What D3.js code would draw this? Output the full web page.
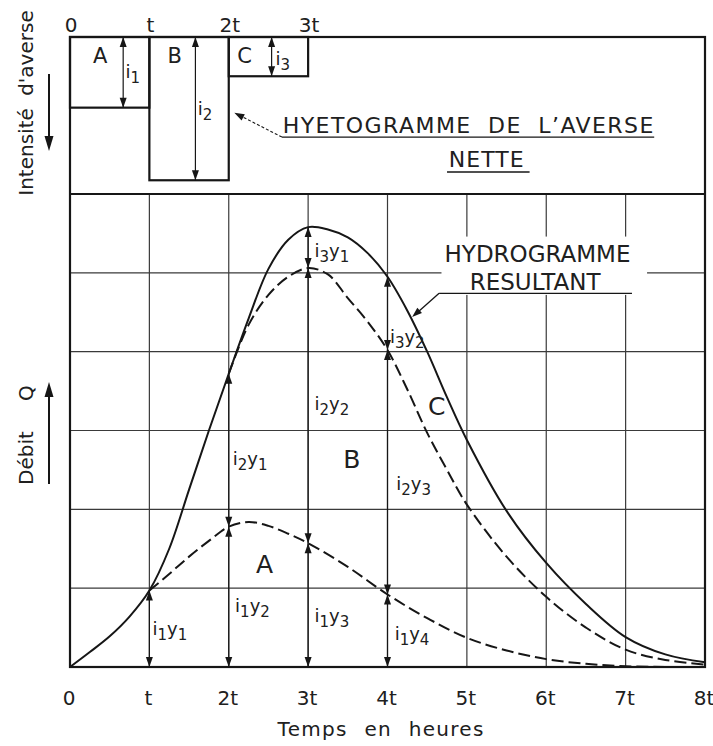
<!DOCTYPE html>
<html>
<head>
<meta charset="utf-8">
<script src="https://cdn.jsdelivr.net/npm/d3@7"></script>
<style>
  html, body { margin: 0; padding: 0; background: #fff; }
  svg { display: block; font-family: "DejaVu Sans", sans-serif; }
</style>
</head>
<body>
<svg id="chart" width="713" height="746"></svg>
<script>
// ---- data -------------------------------------------------------------
// time in multiples of the unit duration t
const timeTicks = [0, 1, 2, 3, 4, 5, 6, 7, 8];
const timeLabels = ["0", "t", "2t", "3t", "4t", "5t", "6t", "7t", "8t"];
const hyetoTicks = [0, 1, 2, 3];
const hyetoLabels = ["0", "t", "2t", "3t"];
const flowGrid = [1, 2, 3, 4, 5];

// net rainfall blocks
const blockNames = ["A", "B", "C"];
const blockStart = [0, 1, 2];
const blockIntensity = [1.8, 3.65, 1.0];
const blockSub = ["1", "2", "3"];

// runoff of block A alone (time, discharge)
const hydroA = [
  [1, 0.97], [1.25, 1.18], [1.5, 1.40], [1.75, 1.60], [2, 1.78], [2.25, 1.84],
  [2.5, 1.79], [2.75, 1.69], [3, 1.57], [3.5, 1.27], [4, 0.92], [4.5, 0.62],
  [5, 0.37], [5.5, 0.21], [6, 0.10], [6.5, 0.04], [7, 0.01], [7.5, 0], [8, 0]
];
// runoff of blocks A + B
const hydroAB = [
  [2, 3.72], [2.25, 4.34], [2.5, 4.72], [2.75, 4.95], [3, 5.06], [3.25, 4.98],
  [3.5, 4.68], [3.75, 4.38], [4, 4.02], [4.25, 3.52], [4.5, 2.97], [4.75, 2.50],
  [5, 2.06], [5.5, 1.40], [6, 0.89], [6.5, 0.50], [7, 0.22], [7.5, 0.09], [8, 0.03]
];
// resulting hydrograph A + B + C
const hydroTotal = [
  [0, 0], [0.25, 0.19], [0.5, 0.39], [0.75, 0.64], [1, 0.97], [1.25, 1.50],
  [1.5, 2.25], [1.75, 3.00], [2, 3.72], [2.25, 4.42], [2.5, 5.05], [2.75, 5.42],
  [3, 5.58], [3.25, 5.55], [3.5, 5.45], [3.75, 5.25], [4, 4.95], [4.25, 4.52],
  [4.5, 4.00], [4.75, 3.42], [5, 2.88], [5.5, 1.98], [6, 1.32], [6.5, 0.80],
  [7, 0.38], [7.5, 0.16], [8, 0.06]
];

// ordinate labels i_k y_j
const ordinateLabels = [
  ["1", "1"], ["1", "2"], ["1", "3"], ["1", "4"],
  ["2", "1"], ["2", "2"], ["2", "3"],
  ["3", "1"], ["3", "2"]
];

// ---- layout -------------------------------------------------------------
const frame = { left: 70, right: 705, top: 37, split: 194, bottom: 667 };
const x = d3.scaleLinear().domain([0, 8]).range([frame.left, frame.right]);
const yQ = d3.scaleLinear().domain([0, 6]).range([frame.bottom, frame.split]);
const yI = d3.scaleLinear().domain([0, 4]).range([frame.top, frame.split]);

const ink = "#161616";
const svg = d3.select("#chart");
svg.append("rect").attr("width", 713).attr("height", 746).attr("fill", "#fff");

// grid of the hydrograph panel
const grid = svg.append("g").attr("stroke", "#3a3a3a").attr("stroke-width", 1.2);
grid.selectAll("line.v").data(timeTicks.slice(1, -1)).join("line")
  .attr("x1", d => x(d)).attr("x2", d => x(d))
  .attr("y1", frame.split).attr("y2", frame.bottom);
grid.selectAll("line.h").data(flowGrid).join("line")
  .attr("x1", frame.left).attr("x2", frame.right)
  .attr("y1", d => yQ(d)).attr("y2", d => yQ(d));

// blank area behind the "HYDROGRAMME RESULTANT" note
svg.append("rect")
  .attr("x", x(4.68)).attr("y", yQ(5.46))
  .attr("width", x(7.27) - x(4.68)).attr("height", yQ(4.72) - yQ(5.46))
  .attr("fill", "#fff");

// hydrograph curves
const line = d3.line().x(d => x(d[0])).y(d => yQ(d[1])).curve(d3.curveCatmullRom.alpha(0.5));
const curves = svg.append("g").attr("fill", "none").attr("stroke", ink).attr("stroke-width", 2);
curves.append("path").attr("d", line(hydroA)).attr("stroke-dasharray", "12,5");
curves.append("path").attr("d", line(hydroAB)).attr("stroke-dasharray", "12,5");
curves.append("path").attr("d", line(hydroTotal));

// arrow helpers
function head(g, tipX, tipY, dx, dy, len = 10, half = 3.5) {
  const n = Math.hypot(dx, dy); const ux = dx / n, uy = dy / n;
  const bx = tipX - ux * len, by = tipY - uy * len;
  g.append("path")
    .attr("d", `M${tipX},${tipY}L${bx - uy * half},${by + ux * half}L${bx + uy * half},${by - ux * half}Z`)
    .attr("fill", ink).attr("stroke", "none");
}
function dimArrow(g, xp, yLow, yHigh) {
  g.append("line").attr("x1", xp).attr("x2", xp).attr("y1", yLow).attr("y2", yHigh)
    .attr("stroke", ink).attr("stroke-width", 1.2);
  head(g, xp, yLow, 0, 1);
  head(g, xp, yHigh, 0, -1);
}
const valueAt = (series, t) => series.find(d => d[0] === t)[1];

// ordinate arrows on t, 2t, 3t, 4t
const arrows = svg.append("g");
const stacks = [
  [1, [0, valueAt(hydroA, 1)]],
  [2, [0, valueAt(hydroA, 2), valueAt(hydroTotal, 2)]],
  [3, [0, valueAt(hydroA, 3), valueAt(hydroAB, 3), valueAt(hydroTotal, 3)]],
  [4, [0, valueAt(hydroA, 4), valueAt(hydroAB, 4), valueAt(hydroTotal, 4)]]
];
stacks.forEach(([t, levels]) => {
  for (let k = 0; k < levels.length - 1; k++) {
    dimArrow(arrows, x(t), yQ(levels[k]), yQ(levels[k + 1]));
  }
});

// hyetograph blocks
const hyeto = svg.append("g");
blockNames.forEach((name, k) => {
  hyeto.append("rect")
    .attr("x", x(blockStart[k])).attr("y", yI(0))
    .attr("width", x(blockStart[k] + 1) - x(blockStart[k]))
    .attr("height", yI(blockIntensity[k]) - yI(0))
    .attr("fill", "none").attr("stroke", ink).attr("stroke-width", 2.2);
});
const hyetoArrowT = [0.67, 1.58, 2.54];
blockNames.forEach((name, k) => {
  dimArrow(hyeto, x(hyetoArrowT[k]), yI(blockIntensity[k]), yI(0));
});

// frame
const fr = svg.append("g").attr("stroke", ink).attr("stroke-width", 2.2).attr("fill", "none");
fr.append("rect").attr("x", frame.left).attr("y", frame.top)
  .attr("width", frame.right - frame.left).attr("height", frame.bottom - frame.top);
fr.append("line").attr("x1", frame.left).attr("x2", frame.right)
  .attr("y1", frame.split).attr("y2", frame.split);

// text
const txt = svg.append("g").attr("fill", "#202020");

txt.selectAll("text.bt").data(timeTicks).join("text")
  .attr("x", d => x(d) - 1).attr("y", 705)
  .attr("text-anchor", "middle").attr("font-size", 20)
  .text((d, i) => timeLabels[i]);
txt.selectAll("text.tt").data(hyetoTicks).join("text")
  .attr("x", d => x(d) + 1).attr("y", 32)
  .attr("text-anchor", "middle").attr("font-size", 20)
  .text((d, i) => hyetoLabels[i]);

txt.append("text").attr("x", x(3.92)).attr("y", 736)
  .attr("text-anchor", "middle").attr("font-size", 20)
  .attr("letter-spacing", 1.3).attr("word-spacing", 9)
  .text("Temps en heures");

txt.append("text").attr("transform", "translate(33,103) rotate(-90)")
  .attr("text-anchor", "middle").attr("font-size", 20).attr("word-spacing", 6)
  .text("Intensité d'averse");
txt.append("text").attr("transform", "translate(33,458) rotate(-90)")
  .attr("text-anchor", "middle").attr("font-size", 20).text("Débit");
txt.append("text").attr("transform", "translate(33,393) rotate(-90)")
  .attr("text-anchor", "middle").attr("font-size", 20).text("Q");

// direction arrows beside the axis titles
const side = svg.append("g");
side.append("line").attr("x1", 49).attr("x2", 49).attr("y1", 74).attr("y2", 140)
  .attr("stroke", ink).attr("stroke-width", 2);
head(side, 49, 151, 0, 1, 15, 4.5);
side.append("line").attr("x1", 49).attr("x2", 49).attr("y1", 484).attr("y2", 395)
  .attr("stroke", ink).attr("stroke-width", 2);
head(side, 49, 382, 0, -1, 15, 4.5);

// block letters
const hyetoLetterT = [0.38, 1.32, 2.2];
blockNames.forEach((name, k) => {
  txt.append("text").attr("x", x(hyetoLetterT[k])).attr("y", 63)
    .attr("text-anchor", "middle").attr("font-size", 21).text(name);
});
const flowLetterPos = [[2.45, 1.19], [3.55, 2.52], [4.62, 3.20]];
blockNames.forEach((name, k) => {
  txt.append("text").attr("x", x(flowLetterPos[k][0])).attr("y", yQ(flowLetterPos[k][1]))
    .attr("text-anchor", "middle").attr("font-size", 25).text(name);
});

// intensity labels i1, i2, i3
const hyetoSubPos = [[0.70, 1.04], [1.61, 1.99], [2.59, 0.71]];
blockSub.forEach((s, k) => {
  const t = txt.append("text").attr("x", x(hyetoSubPos[k][0])).attr("y", yI(hyetoSubPos[k][1]))
    .attr("font-size", 18);
  t.append("tspan").text("i");
  t.append("tspan").attr("dy", 5).attr("font-size", 15).text(s);
});

// ordinate labels
const ordinatePos = [
  [1.04, 0.41], [2.08, 0.70], [3.08, 0.57], [4.09, 0.34],
  [2.05, 2.56], [3.08, 3.26], [4.11, 2.25],
  [3.08, 5.20], [4.03, 4.11]
];
ordinateLabels.forEach(([a, b], k) => {
  const t = txt.append("text").attr("x", x(ordinatePos[k][0])).attr("y", yQ(ordinatePos[k][1]))
    .attr("font-size", 18);
  t.append("tspan").text("i");
  t.append("tspan").attr("dy", 5).attr("font-size", 15).text(a);
  t.append("tspan").attr("dy", -5).text("y");
  t.append("tspan").attr("dy", 5).attr("font-size", 15).text(b);
});

// note: net rainfall hyetograph
const note1 = svg.append("g");
note1.append("text").attr("x", x(2.68)).attr("y", yI(2.45))
  .attr("font-size", 22).attr("word-spacing", 8).attr("fill", "#202020")
  .attr("textLength", x(7.35) - x(2.68)).attr("lengthAdjust", "spacing")
  .text("HYETOGRAMME DE L’AVERSE");
note1.append("text").attr("x", x(5.25)).attr("y", yI(3.31))
  .attr("text-anchor", "middle").attr("font-size", 22).attr("letter-spacing", 1).attr("fill", "#202020")
  .text("NETTE");
note1.append("line").attr("x1", x(2.67)).attr("x2", x(7.36)).attr("y1", yI(2.55)).attr("y2", yI(2.55))
  .attr("stroke", ink).attr("stroke-width", 1.3);
note1.append("line").attr("x1", x(4.75)).attr("x2", x(5.79)).attr("y1", yI(3.44)).attr("y2", yI(3.44))
  .attr("stroke", ink).attr("stroke-width", 1.3);
note1.append("line").attr("x1", x(2.67)).attr("y1", yI(2.55)).attr("x2", x(2.12)).attr("y2", yI(1.98))
  .attr("stroke", ink).attr("stroke-width", 1.1).attr("stroke-dasharray", "3,2");
head(note1, x(2.07), yI(1.93), x(2.07) - x(2.67), yI(1.93) - yI(2.55), 10, 3.5);

// note: resulting hydrograph
const note2 = svg.append("g");
note2.append("text").attr("x", x(5.89)).attr("y", yQ(5.14))
  .attr("text-anchor", "middle").attr("font-size", 23).attr("fill", "#202020")
  .text("HYDROGRAMME");
note2.append("text").attr("x", x(5.86)).attr("y", yQ(4.78))
  .attr("text-anchor", "middle").attr("font-size", 23).attr("fill", "#202020")
  .text("RESULTANT");
note2.append("line").attr("x1", x(4.65)).attr("x2", x(7.08)).attr("y1", yQ(4.74)).attr("y2", yQ(4.74))
  .attr("stroke", ink).attr("stroke-width", 1.3);
note2.append("line").attr("x1", x(4.65)).attr("y1", yQ(4.74)).attr("x2", x(4.36)).attr("y2", yQ(4.48))
  .attr("stroke", ink).attr("stroke-width", 1.3);
head(note2, x(4.31), yQ(4.44), x(4.31) - x(4.65), yQ(4.44) - yQ(4.74), 10, 3.5);
</script>
</body>
</html>
